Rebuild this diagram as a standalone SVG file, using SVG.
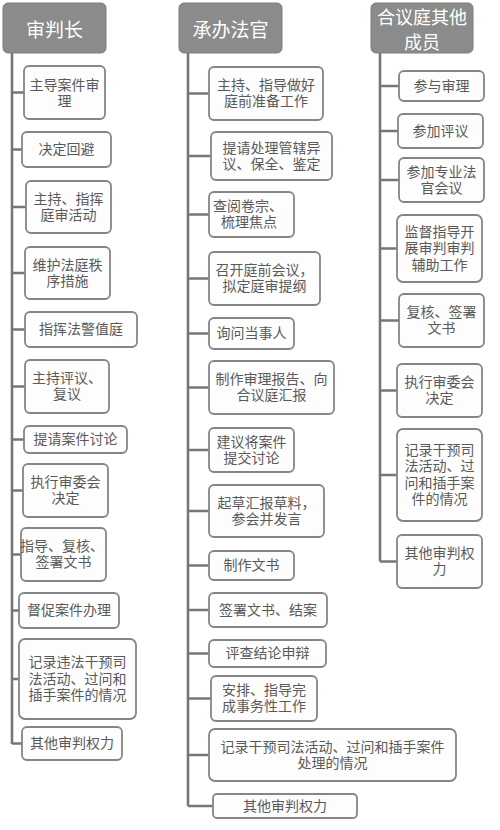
<svg xmlns="http://www.w3.org/2000/svg" width="500" height="830" viewBox="0 0 500 830">
<style>
.hd rect{fill:#8b8b8b;stroke:#7d7d7d;stroke-width:1}
.hd text{fill:#fff;font-family:"Noto Sans CJK SC",sans-serif;font-size:19px;text-anchor:middle;dominant-baseline:central}
.hd text.s{font-size:18px}
.bx rect{fill:#fdfdfd;stroke:#858585;stroke-width:1.8}
.bx text{fill:#5a5a5a;font-family:"Liberation Serif","Noto Sans CJK SC",serif;font-size:14px;text-anchor:middle;dominant-baseline:central}
.cn path{fill:none;stroke:#777;stroke-width:2.6}
</style>
<rect width="500" height="830" fill="#fff"/>
<g class="cn" id="connectors">
<path d="M12 53V744 M12 92.5H24 M12 149.5H22 M12 207H26 M12 273H25 M12 329.5H25 M12 386.5H25 M12 439.5H24 M12 490.5H23 M12 554.5H21 M12 610.5H19 M12 679H19 M12 743.5H22"/>
<path d="M188 53V806 M188 93.5H209 M188 156H211 M188 214.5H209 M188 278.5H209 M188 333.5H209 M188 387.5H209 M188 450H209 M188 511H209 M188 565.5H209 M188 610H209 M188 653.5H209 M188 698.5H211 M188 755H209 M188 806H213"/>
<path d="M380 53V561.5 M380 86H399 M380 131H398 M380 180H399 M380 248.5H397 M380 320.5H399 M380 390.5H397 M380 475H397 M380 561.5H397"/>
</g>
<g class="hd" id="h1"><rect x="3" y="3" width="103" height="50" rx="5"/><text x="54.5" y="28">审判长</text></g>
<g class="hd" id="h2"><rect x="179" y="3" width="103" height="50" rx="5"/><text x="230.5" y="28">承办法官</text></g>
<g class="hd" id="h3"><rect x="371" y="3" width="102" height="50" rx="5"/><text class="s" x="422" y="15.5">合议庭其他</text><text class="s" x="422" y="40.5">成员</text></g>

<g class="bx" id="a1"><rect x="24" y="66" width="81" height="53" rx="5"/><text x="64.5" y="85">主导案件审</text><text x="64.5" y="101">理</text></g>
<g class="bx" id="a2"><rect x="22" y="132" width="89" height="35" rx="5"/><text x="66.5" y="149.5">决定回避</text></g>
<g class="bx" id="a3"><rect x="26" y="181" width="85" height="52" rx="5"/><text x="68.5" y="199">主持、指挥</text><text x="68.5" y="215">庭审活动</text></g>
<g class="bx" id="a4"><rect x="25" y="247" width="85" height="52" rx="5"/><text x="67.5" y="265">维护法庭秩</text><text x="67.5" y="281">序措施</text></g>
<g class="bx" id="a5"><rect x="25" y="312" width="112" height="35" rx="5"/><text x="81" y="329.5">指挥法警值庭</text></g>
<g class="bx" id="a6"><rect x="25" y="360" width="84" height="53" rx="5"/><text x="67" y="378.5">主持评议、</text><text x="67" y="394.5">复议</text></g>
<g class="bx" id="a7"><rect x="24" y="426" width="103" height="27" rx="5"/><text x="75.5" y="439.5">提请案件讨论</text></g>
<g class="bx" id="a8"><rect x="23" y="464" width="85" height="53" rx="5"/><text x="65.5" y="482.5">执行审委会</text><text x="65.5" y="498.5">决定</text></g>
<g class="bx" id="a9"><rect x="21" y="528" width="85" height="53" rx="5"/><text x="62" y="546.5">指导、复核、</text><text x="63.5" y="562.5">签署文书</text></g>
<g class="bx" id="a10"><rect x="19" y="593" width="100" height="35" rx="5"/><text x="69" y="610.5">督促案件办理</text></g>
<g class="bx" id="a11"><rect x="19" y="639" width="117" height="80" rx="6"/><text x="77.5" y="662.5">记录违法干预司</text><text x="77.5" y="679">法活动、过问和</text><text x="77.5" y="695.5">插手案件的情况</text></g>
<g class="bx" id="a12"><rect x="22" y="727" width="100" height="33" rx="5"/><text x="72" y="743.5">其他审判权力</text></g>

<g class="bx" id="b1"><rect x="209" y="67" width="114" height="53" rx="5"/><text x="266" y="85.5">主持、指导做好</text><text x="266" y="101.5">庭前准备工作</text></g>
<g class="bx" id="b2"><rect x="211" y="132" width="121" height="48" rx="5"/><text x="271.5" y="148">提请处理管辖异</text><text x="271.5" y="164">议、保全、鉴定</text></g>
<g class="bx" id="b3"><rect x="209" y="192" width="85" height="45" rx="5"/><text x="248" y="206.5">查阅卷宗、</text><text x="249" y="222.5">梳理焦点</text></g>
<g class="bx" id="b4"><rect x="209" y="252" width="111" height="53" rx="5"/><text x="264.5" y="270.5">召开庭前会议，</text><text x="264.5" y="286.5">拟定庭审提纲</text></g>
<g class="bx" id="b5"><rect x="209" y="318" width="85" height="31" rx="5"/><text x="251.5" y="333.5">询问当事人</text></g>
<g class="bx" id="b6"><rect x="209" y="361" width="125" height="53" rx="5"/><text x="271.5" y="379.5">制作审理报告、向</text><text x="271.5" y="395.5">合议庭汇报</text></g>
<g class="bx" id="b7"><rect x="209" y="428" width="85" height="44" rx="5"/><text x="251.5" y="442">建议将案件</text><text x="251.5" y="458">提交讨论</text></g>
<g class="bx" id="b8"><rect x="209" y="485" width="115" height="52" rx="5"/><text x="266.5" y="503">起草汇报草料，</text><text x="266.5" y="519">参会并发言</text></g>
<g class="bx" id="b9"><rect x="209" y="551" width="85" height="29" rx="5"/><text x="251.5" y="565.5">制作文书</text></g>
<g class="bx" id="b10"><rect x="209" y="593" width="118" height="34" rx="5"/><text x="268" y="610">签署文书、结案</text></g>
<g class="bx" id="b11"><rect x="209" y="640" width="117" height="27" rx="5"/><text x="267.5" y="653.5">评查结论申辩</text></g>
<g class="bx" id="b12"><rect x="211" y="676" width="106" height="45" rx="5"/><text x="264" y="690.5">安排、指导完</text><text x="264" y="706.5">成事务性工作</text></g>
<g class="bx" id="b13"><rect x="209" y="729" width="247" height="52" rx="6"/><text x="332.5" y="747">记录干预司法活动、过问和插手案件</text><text x="332.5" y="763">处理的情况</text></g>
<g class="bx" id="b14"><rect x="213" y="794" width="144" height="24" rx="4"/><text x="285" y="806">其他审判权力</text></g>

<g class="bx" id="c1"><rect x="399" y="71" width="85" height="30" rx="5"/><text x="441.5" y="86">参与审理</text></g>
<g class="bx" id="c2"><rect x="398" y="114" width="85" height="34" rx="5"/><text x="440.5" y="131">参加评议</text></g>
<g class="bx" id="c3"><rect x="399" y="158" width="85" height="44" rx="5"/><text x="441.5" y="172">参加专业法</text><text x="441.5" y="188">官会议</text></g>
<g class="bx" id="c4"><rect x="397" y="215" width="85" height="67" rx="6"/><text x="439.5" y="232">监督指导开</text><text x="439.5" y="248.5">展审判审判</text><text x="439.5" y="265">辅助工作</text></g>
<g class="bx" id="c5"><rect x="399" y="294" width="85" height="53" rx="5"/><text x="441.5" y="312.5">复核、签署</text><text x="441.5" y="328.5">文书</text></g>
<g class="bx" id="c6"><rect x="397" y="364" width="85" height="53" rx="5"/><text x="439.5" y="382.5">执行审委会</text><text x="439.5" y="398.5">决定</text></g>
<g class="bx" id="c7"><rect x="397" y="429" width="85" height="92" rx="6"/><text x="439.5" y="450">记录干预司</text><text x="439.5" y="466.5">法活动、过</text><text x="439.5" y="483">问和插手案</text><text x="439.5" y="499.5">件的情况</text></g>
<g class="bx" id="c8"><rect x="397" y="535" width="85" height="53" rx="5"/><text x="439.5" y="553.5">其他审判权</text><text x="439.5" y="569.5">力</text></g>
</svg>
